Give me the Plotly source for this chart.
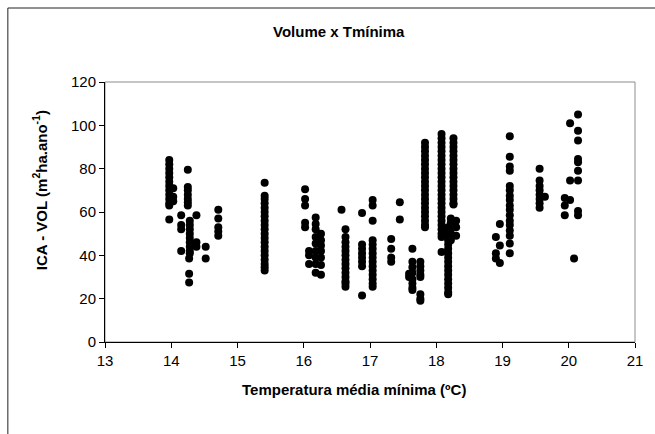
import plotly.graph_objects as go

# Mean minimum temperature (ºC) of each sampled site and the annual volume
# increment (ICA - VOL) measured in the plots at that site.
tmin_groups = [
    13.97, 14.03, 14.25, 14.15, 14.28, 14.38, 14.27, 14.52, 14.71,
    15.41,
    16.02, 16.18, 16.26, 16.08, 16.57, 16.63, 16.88,
    17.04, 17.32, 17.45, 17.64, 17.59, 17.76, 17.83,
    18.08, 18.18, 18.26, 18.22, 18.30, 18.90, 18.96,
    19.11, 19.56, 19.64, 19.94, 20.02, 20.14, 20.08,
]

ica_groups = [
    [84, 82, 80, 78, 76, 74, 72, 70, 68, 66, 64, 63, 56.5],
    [71, 67, 65],
    [79.5, 71.5, 70, 68, 66, 64.5, 63],
    [58.5, 54, 52, 42],
    [56, 54, 52, 50, 48, 46, 44, 42, 41],
    [58.5, 46, 44],
    [38.5, 31.5, 27.5],
    [44, 38.5],
    [61, 57, 53, 51, 49],
    [73.5, 67.5, 66, 64, 62, 60, 58, 56, 54, 52, 50, 48, 46, 44, 42, 40, 38, 36, 34.5, 33],
    [70.5, 66, 63, 55, 53],
    [57.5, 54.5, 52, 48.5, 45.5, 42, 39, 36, 32],
    [50, 47, 44.5, 42, 39, 35.5, 31],
    [42, 40, 36],
    [61],
    [52, 48.5, 46, 44, 42, 40, 38, 36, 34, 32, 30, 28, 27, 25.5],
    [59.5, 45, 43, 41, 39, 37, 35, 21.5],
    [65.5, 63, 56, 47, 45, 43, 41, 39, 37, 35, 33, 31, 29, 27, 25.5],
    [47.5, 43, 39, 37],
    [64.5, 56.5],
    [43, 37, 34.5, 32, 29, 27, 25, 24],
    [31.5, 30],
    [37, 35, 33, 31, 30, 22, 20, 19],
    [92, 90, 88, 86, 84, 82, 80, 78, 76, 74, 72, 70, 68, 66, 64, 62, 60, 58, 56, 54, 53],
    [96, 94, 92, 90, 88, 86, 84, 82, 80, 78, 76, 74, 72, 70, 68, 66, 64, 62, 60, 58,
     56, 54, 52, 50, 48.5, 41.5],
    [53, 51, 49, 47, 45, 43, 41, 39, 37, 35, 33, 31, 29, 27, 25, 23, 22],
    [94, 92, 90, 88, 86, 84, 82, 80, 78, 76, 74, 72, 70, 68, 66, 64, 63.5],
    [57, 55, 52, 50, 48, 47],
    [56, 53, 49],
    [48.5, 41, 38.5],
    [54.5, 44.5, 36.5],
    [95, 85.5, 81, 79, 72, 70, 67.5, 65.5, 63, 61, 58.5, 56, 54, 51.5, 49, 45.5, 41],
    [80, 74.5, 72, 70, 68, 66, 64, 62],
    [67],
    [66.5, 63, 58.5],
    [101, 74.5, 65.5],
    [105, 97.5, 93, 84.5, 83, 79, 74.5, 60.5, 58.5],
    [38.5],
]

x_ticks = [13, 14, 15, 16, 17, 18, 19, 20, 21]
y_ticks = [0, 20, 40, 60, 80, 100, 120]

chart_title = "Volume x Tmínima"
x_title = "Temperatura média mínima (ºC)"
y_title = "ICA - VOL (m<sup>2</sup>ha.ano<sup>-1</sup>)"

FONT = "Arial, 'Liberation Sans', sans-serif"

tmin, ica = [], []
for t, vals in zip(tmin_groups, ica_groups):
    tmin.extend([t] * len(vals))
    ica.extend(vals)

fig = go.Figure(
    go.Scatter(
        x=tmin, y=ica, mode="markers",
        marker=dict(symbol="circle", size=8, color="black", line=dict(width=0)),
        hoverinfo="x+y",
    )
)

axis_common = dict(
    showgrid=False, zeroline=False, showline=True, linecolor="#000000", linewidth=1,
    ticks="outside", ticklen=5, tickcolor="#000000", tickwidth=1,
    tickfont=dict(family=FONT, size=15, color="#000000"),
)

fig.update_xaxes(range=[13, 21], tickvals=x_ticks, **axis_common)
fig.update_yaxes(range=[0, 120], tickvals=y_ticks, **axis_common)

# plot-area border (top/right in grey) and the outer chart frame
shapes = [
    dict(type="rect", xref="paper", yref="paper", x0=0, y0=0, x1=1, y1=1,
         line=dict(color="#8c8c8c", width=1), layer="below"),
    dict(type="line", xref="paper", yref="paper", x0=-0.1833, y0=1.2846, x1=1.1, y1=1.2846,
         line=dict(color="#222222", width=1)),
    dict(type="line", xref="paper", yref="paper", x0=-0.1833, y0=1.2846, x1=-0.1833, y1=-0.5,
         line=dict(color="#222222", width=1)),
]

annotations = [
    dict(text=f"<b>{chart_title}</b>", xref="paper", yref="paper", x=0.4417, y=1.196,
         showarrow=False, xanchor="center", yanchor="middle",
         font=dict(family=FONT, size=15, color="#000000")),
    dict(text=f"<b>{x_title}</b>", xref="paper", yref="paper", x=0.47, y=-0.181,
         showarrow=False, xanchor="center", yanchor="middle",
         font=dict(family=FONT, size=15, color="#000000")),
    dict(text=f"<b>{y_title}</b>", xref="paper", yref="paper", x=-0.122, y=0.585,
         showarrow=False, xanchor="center", yanchor="middle", textangle=-90,
         font=dict(family=FONT, size=15, color="#000000")),
]

fig.update_layout(
    width=655, height=434,
    margin=dict(l=105, r=18, t=82, b=92),
    paper_bgcolor="white", plot_bgcolor="white",
    showlegend=False,
    shapes=shapes, annotations=annotations,
)

fig.write_html("out.html")
